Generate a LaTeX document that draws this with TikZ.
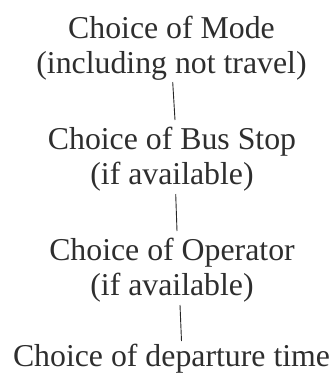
\documentclass[tikz,border=0pt]{standalone}
\usepackage{fontspec}
\setmainfont{Liberation Serif}
\usetikzlibrary{calc}
\begin{document}
\begin{tikzpicture}[x=1pt,y=-1pt,
  level/.style={anchor=base, align=center, inner sep=0pt, text=black!82,
    font=\fontsize{31.8}{35}\selectfont},
  link/.style={draw=black!85, line width=0.9pt}]
\useasboundingbox (0,0) rectangle (334,373);
% base anchor = baseline of the last line of each block
\node[level] (mode) at (171.5,73) {Choice of Mode\\(including not travel)};
\node[level] (stop) at (172,184) {Choice of Bus Stop\\(if available)};
\node[level] (oper) at (172,295) {Choice of Operator\\(if available)};
\node[level] (dept) at (171.5,366) {Choice of departure time};
\path[link] ($(mode.base)+(1.2,9)$) -- ($(stop.base)+(3,-64)$);
\path[link] ($(stop.base)+(3.7,10)$) -- ($(oper.base)+(5,-64)$);
\path[link] ($(oper.base)+(8,10)$) -- ($(dept.base)+(10,-25)$);
\end{tikzpicture}
\end{document}
